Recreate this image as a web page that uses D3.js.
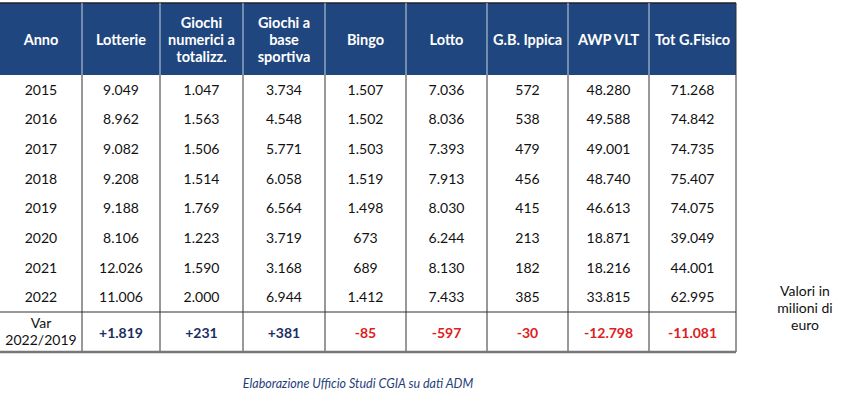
<!DOCTYPE html>
<html><head><meta charset="utf-8">
<script src="https://cdn.jsdelivr.net/npm/d3@7"></script>
<style>body{margin:0;background:#fff}svg{display:block}</style>
</head><body>
<svg id="c" width="861" height="405"></svg>
<script>
const headers = [["Anno"], ["Lotterie"], ["Giochi", "numerici a", "totalizz."], ["Giochi a", "base", "sportiva"], ["Bingo"], ["Lotto"], ["G.B. Ippica"], ["AWP VLT"], ["Tot G.Fisico"]];
const years = ["2015", "2016", "2017", "2018", "2019", "2020", "2021", "2022"];
const lotterie = ["9.049", "8.962", "9.082", "9.208", "9.188", "8.106", "12.026", "11.006"];
const numerici = ["1.047", "1.563", "1.506", "1.514", "1.769", "1.223", "1.590", "2.000"];
const sportiva = ["3.734", "4.548", "5.771", "6.058", "6.564", "3.719", "3.168", "6.944"];
const bingo = ["1.507", "1.502", "1.503", "1.519", "1.498", "673", "689", "1.412"];
const lotto = ["7.036", "8.036", "7.393", "7.913", "8.030", "6.244", "8.130", "7.433"];
const ippica = ["572", "538", "479", "456", "415", "213", "182", "385"];
const awp = ["48.280", "49.588", "49.001", "48.740", "46.613", "18.871", "18.216", "33.815"];
const totale = ["71.268", "74.842", "74.735", "75.407", "74.075", "39.049", "44.001", "62.995"];
const variazione = ["+1.819", "+231", "+381", "-85", "-597", "-30", "-12.798", "-11.081"];

const svg = d3.select("#c");
const edges = [0, 82, 160, 243, 325, 406, 487, 568, 649, 736];
const cols = d3.range(9);
const x0 = i => edges[i], cx = i => (edges[i] + edges[i + 1]) / 2;
const y = d3.scaleBand().domain(years).range([75, 312]);
const font = "'Century Gothic','URW Gothic','Lato','DejaVu Sans',sans-serif";
const navy = "#1F467E";

svg.append("rect").attr("x", 0).attr("y", 3).attr("width", 736).attr("height", 72).attr("fill", navy);
svg.append("line").attr("x1", 0).attr("x2", 736).attr("y1", 3).attr("y2", 3).attr("stroke", "#222").attr("stroke-width", 1.5);

headers.forEach((h, i) => {
  const t = svg.append("text").attr("x", cx(i)).attr("text-anchor", "middle")
    .attr("fill", "#fff").attr("font-weight", "bold").attr("font-size", 14.5).attr("font-family", font);
  const start = 45 - (h.length - 1) * 8.5;
  h.forEach((s, k) => t.append("tspan").attr("x", cx(i)).attr("y", start + k * 17).text(s));
});

const table = [years, lotterie, numerici, sportiva, bingo, lotto, ippica, awp, totale];
cols.forEach(i => {
  svg.append("g").selectAll("text").data(table[i]).join("text")
    .attr("x", cx(i)).attr("y", (d, r) => y(years[r]) + y.bandwidth() / 2 + 5)
    .attr("text-anchor", "middle").attr("font-size", 14).attr("font-family", font).attr("fill", "#111").text(d => d);
});

// var row
svg.append("text").attr("x", cx(0)).attr("text-anchor", "middle").attr("font-size", 14).attr("font-family", font).attr("fill", "#111")
  .selectAll("tspan").data(["Var", "2022/2019"]).join("tspan").attr("x", cx(0)).attr("y", (d, k) => 328 + k * 17).text(d => d);
svg.append("g").selectAll("text").data(variazione).join("text")
  .attr("x", (d, k) => cx(k + 1)).attr("y", 338).attr("text-anchor", "middle")
  .attr("font-weight", "bold").attr("font-size", 14).attr("font-family", font)
  .attr("fill", d => d.startsWith("-") ? "#E0201B" : "#1B2E63").text(d => d);

// grid lines
edges.slice(1, -1).forEach(e => {
  svg.append("line").attr("x1", e).attr("x2", e).attr("y1", 3).attr("y2", 75).attr("stroke", "#c8d2e2").attr("stroke-width", 1);
  svg.append("line").attr("x1", e).attr("x2", e).attr("y1", 75).attr("y2", 352).attr("stroke", "#333").attr("stroke-width", 1);
});
svg.append("line").attr("x1", 736).attr("x2", 736).attr("y1", 3).attr("y2", 352).attr("stroke", "#333");
svg.append("line").attr("x1", 0).attr("x2", 736).attr("y1", 312).attr("y2", 312).attr("stroke", "#333").attr("stroke-width", 1.2);
svg.append("line").attr("x1", 0).attr("x2", 736).attr("y1", 352).attr("y2", 352).attr("stroke", "#777").attr("stroke-width", 2.5);

svg.append("text").attr("text-anchor", "middle").attr("font-size", 14).attr("font-family", font).attr("fill", "#111")
  .selectAll("tspan").data(["Valori in", "milioni di", "euro"]).join("tspan").attr("x", 805).attr("y", (d, k) => 296 + k * 17).text(d => d);

svg.append("text").attr("x", 358).attr("y", 388).attr("text-anchor", "middle").attr("font-style", "italic")
  .attr("font-size", 12.5).attr("font-family", font).attr("fill", "#1F3F7A").text("Elaborazione Ufficio Studi CGIA su dati ADM");
</script>
</body></html>
